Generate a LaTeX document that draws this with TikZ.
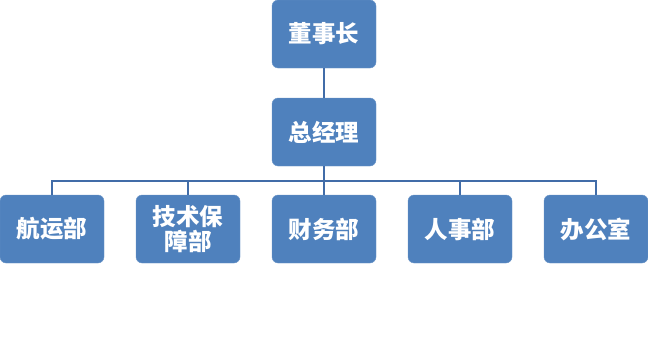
\documentclass[tikz,border=0pt]{standalone}
\usepackage{fontspec}
\newfontfamily\cjk{Noto Sans CJK SC}
\definecolor{orgblue}{RGB}{79,129,189}
\definecolor{orgedge}{RGB}{108,150,200}
\definecolor{orgline}{RGB}{65,108,168}
\usetikzlibrary{positioning}

\begin{document}
\begin{tikzpicture}[x=1pt, y=-1pt,
  unit/.style={fill=orgblue, draw=orgedge, rounded corners=6pt,
    minimum width=104pt, minimum height=68pt, align=center,
    inner sep=0pt, text=white, font=\cjk\bfseries\fontsize{23.5pt}{25pt}\selectfont},
  link/.style={draw=orgline, line width=1.6pt}]
  \useasboundingbox (0,0) rectangle (648,356);

  % Top levels
  \node[unit] (dsz) at (324,34) {董事长};
  \node[unit] (zjl) at (324,132) {总经理};

  % Departments
  \node[unit] (hyb) at (52,229) {航运部};
  \node[unit] (jsb) at (188,229) {技术保\\障部};
  \node[unit] (cwb) at (324,229) {财务部};
  \node[unit] (rsb) at (460,229) {人事部};
  \node[unit] (bgs) at (596,229) {办公室};

  % Connectors
  \coordinate (bus) at (324,181);
  \draw[link] (dsz.south) -- (zjl.north);
  \draw[link] (zjl.south) -- (bus);
  \draw[link] (bus) -| (hyb.north);
  \draw[link] (bus) -| (jsb.north);
  \draw[link] (bus) -- (cwb.north);
  \draw[link] (bus) -| (rsb.north);
  \draw[link] (bus) -| (bgs.north);
\end{tikzpicture}
\end{document}
